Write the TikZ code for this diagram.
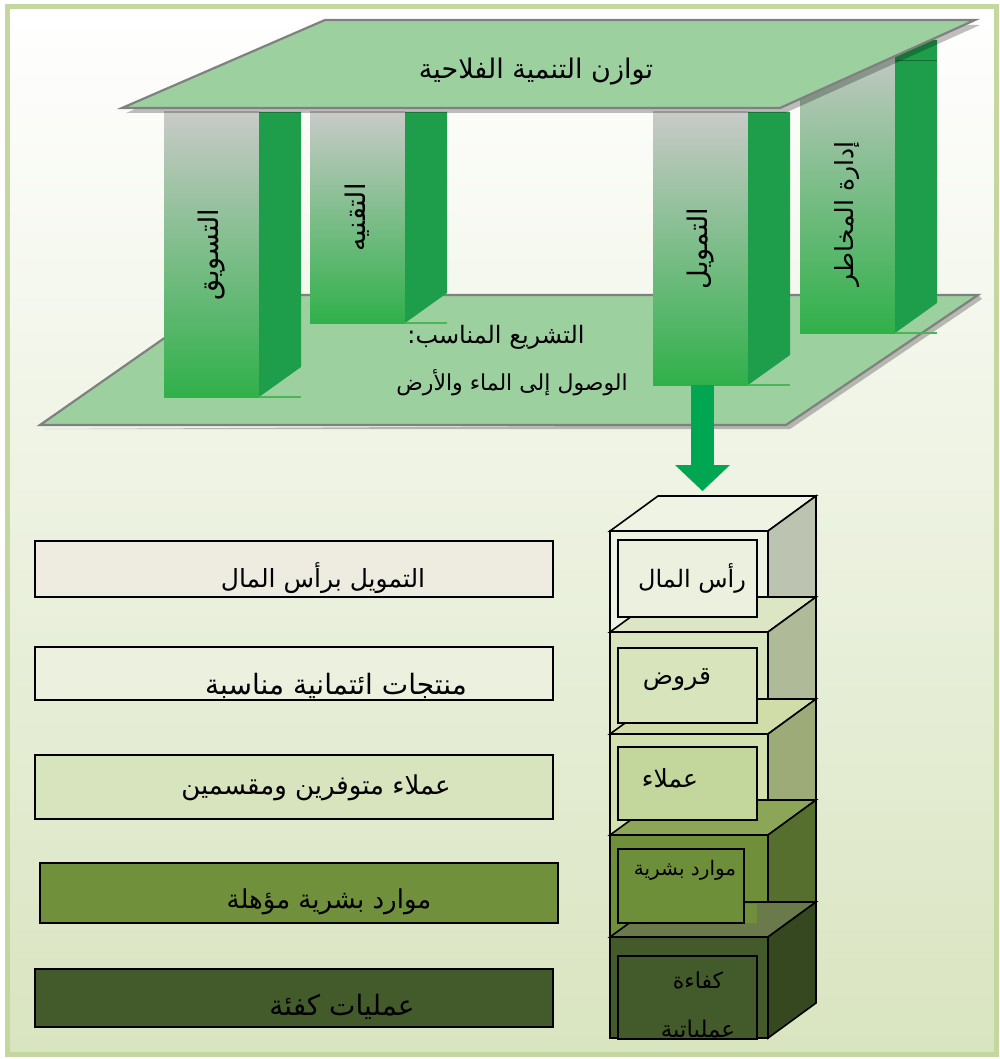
\documentclass[tikz,border=0pt]{standalone}
\usepackage{fontspec}
\usetikzlibrary{arrows.meta,calc}
\newfontfamily\arabicfont[Script=Arabic]{DejaVu Sans}
\TeXXeTstate=1
\newcommand{\AR}[1]{\arabicfont\beginR #1\endR}
\definecolor{platfill}{HTML}{9DD09F}
\definecolor{platedge}{HTML}{808080}
\definecolor{pilgray}{HTML}{C9CAC8}
\definecolor{pilmid}{HTML}{94C292}
\definecolor{pilgreen}{HTML}{30B04A}
\definecolor{pilside}{HTML}{1E9E4A}
\definecolor{pilbase}{HTML}{4CB55A}
\definecolor{arrowgreen}{HTML}{00A651}
\definecolor{framecol}{HTML}{C4D79E}
\definecolor{bgbot}{HTML}{D9E4C0}
\definecolor{bfa}{HTML}{EEF2E3}\definecolor{bta}{HTML}{EFF3E4}\definecolor{bsa}{HTML}{BCC3B0}\definecolor{bla}{HTML}{EBF1DE}
\definecolor{bfb}{HTML}{D8E4BD}\definecolor{btb}{HTML}{DCE6C4}\definecolor{bsb}{HTML}{AEBA98}\definecolor{blb}{HTML}{D7E4BC}
\definecolor{bfc}{HTML}{D3E0B0}\definecolor{btc}{HTML}{D0DDA9}\definecolor{bsc}{HTML}{9CAB78}\definecolor{blc}{HTML}{C3D69B}
\definecolor{bfd}{HTML}{6F8F3B}\definecolor{btd}{HTML}{8CA658}\definecolor{bsd}{HTML}{566F2F}\definecolor{bld}{HTML}{6E8F3A}
\definecolor{bfe}{HTML}{455A2B}\definecolor{bte}{HTML}{6A7A4B}\definecolor{bse}{HTML}{364820}\definecolor{ble}{HTML}{435A2B}
\definecolor{barA}{HTML}{EEECE1}\definecolor{barB}{HTML}{EBF1DE}\definecolor{barC}{HTML}{D7E4BD}
\definecolor{barD}{HTML}{71903B}\definecolor{barE}{HTML}{435A2B}
\tikzset{
  platform/.style={fill=platfill, draw=platedge, line width=2.2pt, line join=miter},
  pshadow/.style={fill=black, opacity=0.25},
  pillarfront/.style={top color=pilgray, middle color=pilmid, bottom color=pilgreen,
     inner sep=0pt, outer sep=0pt, minimum width=95pt, anchor=north west},
  pillarside/.style={fill=pilside},
  pillarbase/.style={draw=pilbase, line width=1.2pt},
  pillabel/.style={rotate=90, inner sep=0pt, font=\fontsize{27}{30}\selectfont},
  cubefront/.style={draw=black, line width=1.6pt, inner sep=0pt, outer sep=0pt,
     minimum width=158pt, minimum height=101pt, anchor=north west},
  cubeline/.style={draw=black, line width=1.6pt, line join=miter},
  cubelabel/.style={draw=black, line width=1.6pt, inner sep=0pt, outer sep=0pt, anchor=north west},
  bar/.style={draw=black, line width=1.6pt, inner sep=0pt, outer sep=0pt,
     minimum width=518pt, anchor=north west},
  bartext/.style={inner sep=0pt, font=\fontsize{26}{30}\selectfont},
  cubetext/.style={inner sep=0pt, font=\fontsize{25}{28}\selectfont},
}
\newcommand{\cubebox}[5]{%
  \node[cubefront, fill=#3] (#1) at (610,#2) {};
  \draw[cubeline, fill=#4] (#1.north west) -- ++(48,-35) -- ++(158,0) -- (#1.north east) -- cycle;
  \draw[cubeline, fill=#5] (#1.north east) -- ++(48,-35) -- ++(0,101) -- (#1.south east) -- cycle;
}
\begin{document}
\begin{tikzpicture}[x=1pt,y=-1pt]
\useasboundingbox (0,0) rectangle (1000,1059);
% background and frame
\shade[top color=white, middle color=white!55!bgbot, bottom color=bgbot] (7,7) rectangle (996,1054);
\draw[framecol, line width=5pt] (7,7) rectangle (996,1054);

% bottom platform
\fill[pshadow] (44,429) -- (790,429) -- (982,299) -- (978,295) -- (786,425) -- cycle;
\draw[platform] (40,425) -- (786,425) -- (978,295) -- (226,295) -- cycle;

% pillars
\node[pillarfront, minimum height=285pt] (p1) at (164,112) {};
\node[pillarfront, minimum height=211pt] (p2) at (310,112) {};
\node[pillarfront, minimum height=273pt] (p3) at (653,112) {};
\node[pillarfront, minimum height=293pt] (p4) at (800,40) {};
\foreach \p in {p1,p2,p3,p4}{
  \fill[pillarside] (\p.north east) -- ++(42,0) -- ($(\p.south east)+(42,-30)$) -- (\p.south east) -- cycle;
  \draw[pillarbase] (\p.south east) -- ++(42,0);
}
\draw[pilside!70!black, line width=0.8pt] (895,60) -- (937,60);

% arrow from the financing pillar down to the stack
\draw[arrowgreen, line width=23pt, -{Triangle[width=55pt,length=26pt,line width=0pt]}]
  ($(p3.south)+(2,0)$) -- ($(p3.south)+(2,106)$);

% top platform
\fill[pshadow] (329,25) -- (980,25) -- (785,113) -- (126,113) -- cycle;
\draw[platform] (325,20) -- (975,20) -- (780,108) -- (122,108) -- cycle;

% texts on platforms and pillars
\node[font=\fontsize{27}{30}\selectfont, inner sep=0pt] (toptxt) at (536,72) {\AR{توازن التنمية الفلاحية}};
\node[font=\fontsize{24}{28}\selectfont, inner sep=0pt] (law1) at (496,337) {\AR{التشريع المناسب:}};
\node[font=\fontsize{22}{26}\selectfont, inner sep=0pt] (law2) at (512,383) {\AR{الوصول إلى الماء والأرض}};
\node[pillabel] (t1) at (p1.center) {\AR{التسويق}};
\node[pillabel] (t2) at (p2.center) {\AR{التقنيه}};
\node[pillabel] (t3) at (p3.center) {\AR{التمويل}};
\node[pillabel, font=\fontsize{25}{28}\selectfont] (t4) at (847,214) {\AR{إدارة المخاطر}};

% stacked boxes
\cubebox{b1}{531}{bfa}{bta}{bsa}
\cubebox{b2}{632}{bfb}{btb}{bsb}
\cubebox{b3}{734}{bfc}{btc}{bsc}
\cubebox{b4}{835}{bfd}{btd}{bsd}
\cubebox{b5}{937}{bfe}{bte}{bse}
\fill[bfd] (618,904) rectangle (757,923);
\node[cubelabel, fill=bla, minimum width=139pt, minimum height=77pt] (l1) at (618,540) {};
\node[cubelabel, fill=blb, minimum width=139pt, minimum height=75pt] (l2) at (618,648) {};
\node[cubelabel, fill=blc, minimum width=139pt, minimum height=73pt] (l3) at (618,747) {};
\node[cubelabel, fill=bld, minimum width=126pt, minimum height=74pt] (l4) at (618,849) {};
\node[cubelabel, fill=ble, minimum width=139pt, minimum height=83pt] (l5) at (618,956) {};
\node[cubetext, font=\fontsize{24}{28}\selectfont] (c1) at (692,578) {\AR{رأس المال}};
\node[cubetext] (c2) at (677,680) {\AR{قروض}};
\node[cubetext] (c3) at (670,778) {\AR{عملاء}};
\node[cubetext, font=\fontsize{20}{24}\selectfont] (c4) at (685,870) {\AR{موارد بشرية}};
\begin{scope}
  \clip (618,956) rectangle (757,1039);
  \node[cubetext, font=\fontsize{22}{26}\selectfont] (c5a) at (698,980) {\AR{كفاءة}};
  \node[cubetext, font=\fontsize{23}{26}\selectfont] (c5b) at (698,1030) {\AR{عملياتية}};
\end{scope}

% left bars
\node[bar, fill=barA, minimum height=56pt] (r1) at (35,541) {};
\node[bar, fill=barB, minimum height=53pt] (r2) at (35,647) {};
\node[bar, fill=barC, minimum height=64pt] (r3) at (35,755) {};
\node[bar, fill=barD, minimum height=60pt] (r4) at (40,863) {};
\node[bar, fill=barE, minimum height=58pt] (r5) at (35,969) {};
\node[bartext, font=\fontsize{25}{30}\selectfont] (s1) at (323,578) {\AR{التمويل برأس المال}};
\begin{scope}
  \clip (35,647) rectangle (553,699);
  \node[bartext, font=\fontsize{28}{32}\selectfont] (s2) at (336,686) {\AR{منتجات ائتمانية مناسبة}};
\end{scope}
\node[bartext] (s3) at (316,788) {\AR{عملاء متوفرين ومقسمين}};
\node[bartext] (s4) at (329,902) {\AR{موارد بشرية مؤهلة}};
\node[bartext, font=\fontsize{28}{32}\selectfont] (s5) at (342,1007) {\AR{عمليات كفئة}};
\end{tikzpicture}
\end{document}
